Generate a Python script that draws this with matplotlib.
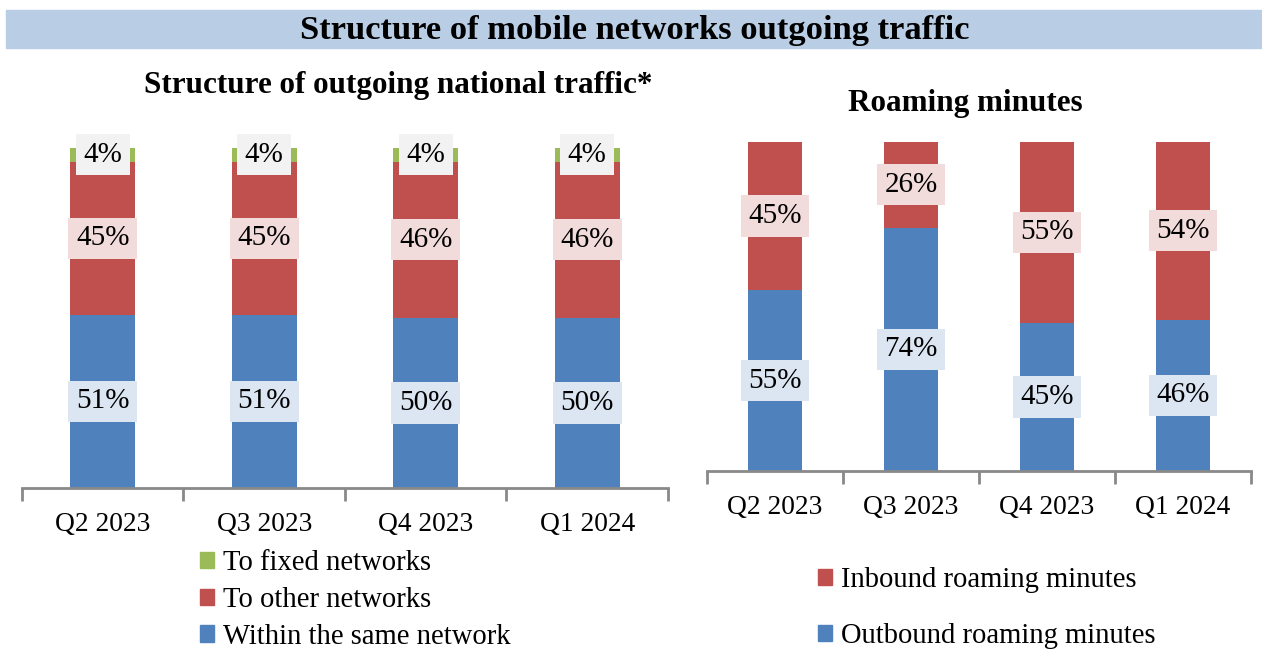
import matplotlib
matplotlib.use("Agg")
import matplotlib.pyplot as plt
import numpy as np
from matplotlib.patches import Rectangle, Patch

plt.rcParams['font.family'] = ['Liberation Serif', 'DejaVu Serif']

# data
quarters = ['Q2 2023', 'Q3 2023', 'Q4 2023', 'Q1 2024']
same_net = [51, 51, 50, 50]
other_net = [45, 45, 46, 46]
fixed_net = [4, 4, 4, 4]
outbound = [55, 74, 45, 46]
inbound = [45, 26, 55, 54]

BLUE = '#4F81BD'
RED = '#C0504D'
GREEN = '#9BBB59'
AXIS_GREY = '#898989'

W, H = 1262, 651
fig = plt.figure(figsize=(W / 100, H / 100), dpi=100)

# banner
fig.patches.append(Rectangle((6 / W, 1 - 48 / H), (W - 6) / W, 38 / H,
                             transform=fig.transFigure, color='#B9CDE5', zorder=0))
fig.text(635 / W, 1 - 30 / H, 'Structure of mobile networks outgoing traffic',
         ha='center', va='center', fontsize=24.8, fontweight='bold')


def style_axis(ax):
    for s in ['top', 'left', 'right']:
        ax.spines[s].set_visible(False)
    ax.spines['bottom'].set_color(AXIS_GREY)
    ax.spines['bottom'].set_linewidth(2)
    ax.set_xlim(-0.5, 3.5)
    ax.set_ylim(0, 100)
    ax.set_yticks([])
    ax.set_xticks(range(len(quarters)))
    ax.set_xticklabels(quarters, fontsize=19.8)
    ax.set_xticks(np.arange(-0.5, 4, 1), minor=True)
    ax.tick_params(axis='x', which='major', length=0, pad=17)
    ax.tick_params(axis='x', which='minor', length=9, width=2, color=AXIS_GREY)


def add_labels(ax, bottoms, vals, box):
    for i, (b, v) in enumerate(zip(bottoms, vals)):
        ax.text(i, b + v / 2, f'{v}%', ha='center', va='center', fontsize=21,
                bbox=dict(boxstyle='square,pad=0.26', fc=box, ec='none'))


# left chart
x = np.arange(len(quarters))
ax1 = fig.add_axes([22 / W, 1 - 488 / H, 646 / W, 340 / H])
ax1.bar(x, same_net, 0.4, color=BLUE)
ax1.bar(x, other_net, 0.4, bottom=same_net, color=RED)
bot3 = [a + b for a, b in zip(same_net, other_net)]
ax1.bar(x, fixed_net, 0.4, bottom=bot3, color=GREEN)
style_axis(ax1)
add_labels(ax1, [0] * 4, same_net, '#DCE6F2')
add_labels(ax1, same_net, other_net, '#F2DCDB')
add_labels(ax1, bot3, fixed_net, '#F2F2F2')
fig.text(398 / W, 1 - 86 / H, 'Structure of outgoing national traffic*',
         ha='center', va='center', fontsize=22.4, fontweight='bold')

fig.legend([Patch(color=GREEN), Patch(color=RED), Patch(color=BLUE)],
           ['To fixed networks', 'To other networks', 'Within the same network'],
           loc='upper left', bbox_to_anchor=(200 / W, 1 - 550 / H), frameon=False,
           fontsize=20.6, handlelength=0.5, handleheight=0.5, handletextpad=0.3,
           labelspacing=0.38, borderpad=0, borderaxespad=0)

# right chart
ax2 = fig.add_axes([707 / W, 1 - 471 / H, 544 / W, 329 / H])
ax2.bar(x, outbound, 0.4, color=BLUE)
ax2.bar(x, inbound, 0.4, bottom=outbound, color=RED)
style_axis(ax2)
add_labels(ax2, [0] * 4, outbound, '#DCE6F2')
add_labels(ax2, outbound, inbound, '#F2DCDB')
fig.text(965 / W, 1 - 103 / H, 'Roaming minutes',
         ha='center', va='center', fontsize=22.4, fontweight='bold')

fig.legend([Patch(color=RED), Patch(color=BLUE)],
           ['Inbound roaming minutes', 'Outbound roaming minutes'],
           loc='upper left', bbox_to_anchor=(818 / W, 1 - 567 / H), frameon=False,
           fontsize=20.6, handlelength=0.5, handleheight=0.5, handletextpad=0.3,
           labelspacing=1.05, borderpad=0, borderaxespad=0)

fig.savefig('out.png', dpi=100)
